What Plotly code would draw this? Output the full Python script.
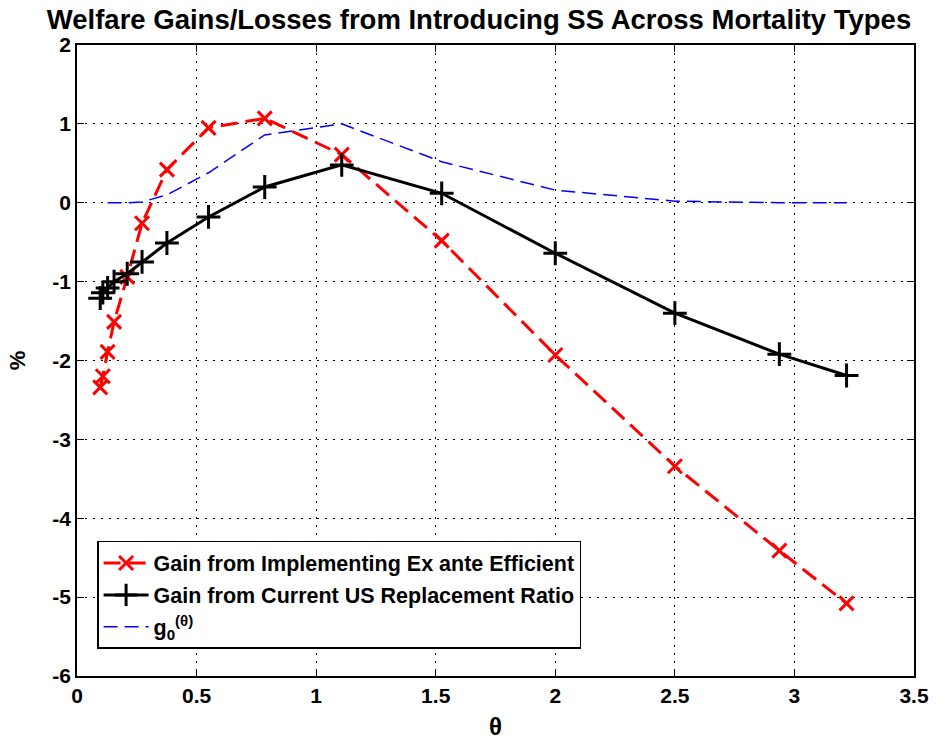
import plotly.graph_objects as go

# theta grid (x values)
theta = [0.097, 0.108, 0.128, 0.155, 0.21, 0.272, 0.376, 0.55, 0.785, 1.107, 1.525, 2.0, 2.5, 2.937, 3.218]
# Gain from implementing ex ante efficient (%)
gain_efficient = [-2.34, -2.20, -1.89, -1.51, -0.94, -0.26, 0.42, 0.95, 1.07, 0.61, -0.48, -1.93, -3.34, -4.41, -5.08]
# Gain from current US replacement ratio (%)
gain_us = [-1.21, -1.14, -1.08, -1.00, -0.90, -0.75, -0.51, -0.18, 0.20, 0.48, 0.12, -0.64, -1.40, -1.92, -2.19]
# g0(theta)
theta_g0 = [0.128, 0.155, 0.21, 0.272, 0.376, 0.55, 0.785, 1.107, 1.525, 2.0, 2.5, 2.937, 3.218]
g0 = [0.0, 0.0, 0.0, 0.01, 0.10, 0.38, 0.86, 1.00, 0.52, 0.16, 0.02, 0.0, 0.0]

x_ticks = [0, 0.5, 1, 1.5, 2, 2.5, 3, 3.5]
y_ticks = [-6, -5, -4, -3, -2, -1, 0, 1, 2]

FONT = "Liberation Sans, Arial, Helvetica, sans-serif"
W, H = 947, 751

fig = go.Figure()
fig.add_trace(go.Scatter(
    x=theta, y=gain_efficient, mode="lines+markers",
    name="Gain from Implementing Ex ante Efficient",
    line=dict(color="#ff0000", width=3, dash="17px,8px"),
    marker=dict(symbol="x-thin", size=14, line=dict(color="#ff0000", width=3)),
    legendgroup="a",
))
fig.add_trace(go.Scatter(
    x=theta, y=gain_us, mode="lines+markers",
    name="Gain from Current US Replacement Ratio",
    line=dict(color="#000000", width=3),
    marker=dict(symbol="cross-thin", size=17, line=dict(color="#000000", width=3)),
    legendgroup="b",
))
fig.add_trace(go.Scatter(
    x=theta_g0, y=g0, mode="lines",
    name="g<sub>0</sub><sup>(θ)</sup>",
    line=dict(color="#0000ff", width=1.5, dash="14px,7px"),
    legendgroup="c",
))

axis_common = dict(
    showline=True, linecolor="black", linewidth=1.5, mirror="ticks",
    ticks="inside", ticklen=7, tickcolor="black", tickwidth=1,
    showgrid=True, gridcolor="black", gridwidth=1, griddash="2px,6px",
    zeroline=False, automargin=False,
    tickfont=dict(family=FONT, size=21, color="black", weight="bold"),
)

fig.update_xaxes(range=[0, 3.5], tickvals=x_ticks, ticktext=[str(v) for v in x_ticks],
                 title=dict(text="θ", font=dict(family=FONT, size=24, color="black", weight="bold"), standoff=12),
                 **axis_common)
fig.update_yaxes(range=[-6, 2], tickvals=y_ticks, ticktext=[str(v) for v in y_ticks],
                 title=dict(text="%", font=dict(family=FONT, size=22, color="black", weight="bold"), standoff=21),
                 **axis_common)

fig.update_layout(
    width=W, height=H,
    margin=dict(l=77, r=W - 914, t=45, b=H - 676),
    paper_bgcolor="white", plot_bgcolor="white",
    title=dict(text="Welfare Gains/Losses from Introducing SS Across Mortality Types",
               x=479 / W, xref="container", xanchor="center",
               y=1 - 19 / H, yref="container", yanchor="middle",
               font=dict(family=FONT, size=27.5, color="black", weight="bold")),
    legend=dict(x=0.024, y=0.214, xanchor="left", yanchor="top",
                bgcolor="white", bordercolor="black", borderwidth=1.5,
                font=dict(family=FONT, size=21.5, color="black", weight="bold"),
                itemwidth=45, tracegroupgap=1),
    showlegend=True,
)

fig.write_html("out.html", config={"displayModeBar": False},
               post_script="document.body.style.margin='0';")
